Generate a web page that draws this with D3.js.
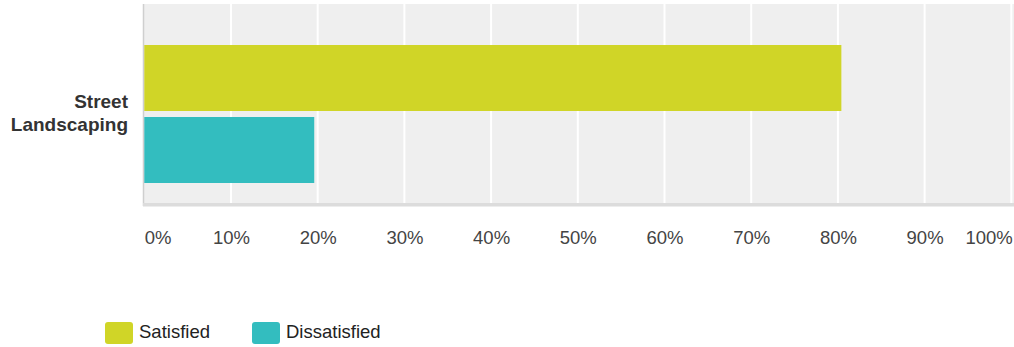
<!DOCTYPE html>
<html><head><meta charset="utf-8">
<script src="https://cdn.jsdelivr.net/npm/d3@7"></script>
<style>body{margin:0;background:#fff;font-family:Arial,"Liberation Sans",Helvetica,sans-serif}</style>
</head><body><svg id="c" width="1014" height="347"></svg>
<script>
const categories = ["Street Landscaping"];
const seriesNames = ["Satisfied", "Dissatisfied"];
const satisfied = [80.4];
const dissatisfied = [19.6];
const tickValues = [0,10,20,30,40,50,60,70,80,90,100];
const tickLabels = ["0%","10%","20%","30%","40%","50%","60%","70%","80%","90%","100%"];
const colors = ["#d0d527", "#33bdbf"];

const svg = d3.select("#c");
const x = d3.scaleLinear().domain([0,100]).range([144.3, 1011.3]);
const plotTop = 4, plotBottom = 203;
const y1 = d3.scaleBand().domain(seriesNames).range([45, 183]).paddingInner(1/12).paddingOuter(0);

// background
svg.append("rect").attr("x",143).attr("y",plotTop).attr("width",1014-143).attr("height",plotBottom-plotTop).attr("fill","#efefef");
// grid
svg.selectAll("line.g").data(tickValues.slice(1)).enter().append("line")
  .attr("x1",d=>x(d)).attr("x2",d=>x(d)).attr("y1",plotTop).attr("y2",plotBottom)
  .attr("stroke","#fff").attr("stroke-width",2);
// left axis line
svg.append("line").attr("x1",143.5).attr("x2",143.5).attr("y1",plotTop).attr("y2",plotBottom+3).attr("stroke","#cfcfcf").attr("stroke-width",1.5);
// bottom band
svg.append("rect").attr("x",143).attr("y",plotBottom).attr("width",1014-143).attr("height",3.5).attr("fill","#dcdcdc");

const series = [satisfied, dissatisfied];
categories.forEach((c,ci)=>{
  seriesNames.forEach((s,si)=>{
    svg.append("rect")
      .attr("x",x(0)).attr("y",y1(s)).attr("width",x(series[si][ci])-x(0)).attr("height",y1.bandwidth())
      .attr("fill",colors[si]);
  });
  const words = c.split(" ");
  const t = svg.append("text").attr("text-anchor","end").attr("font-weight","bold").attr("font-size",19).attr("fill","#333");
  words.forEach((w,i)=>t.append("tspan").attr("x",128).attr("y",108+i*23).text(w));
});

// x axis labels
const ax = svg.append("g").attr("transform",`translate(0,${244})`);
const axis = d3.axisBottom(x).tickValues(tickValues).tickFormat((d,i)=>tickLabels[i]).tickSize(0).tickPadding(0);
ax.call(axis);
ax.select(".domain").remove();
ax.selectAll("text").attr("font-size",18.5).attr("fill","#444").attr("font-family","Arial,'Liberation Sans',sans-serif")
  .attr("dy",0).attr("y",0)
  .attr("text-anchor",(d)=>d===0?"start":(d===100?"end":"middle"))
  .attr("dx",(d)=>d===100?"1":"0");

// legend
const leg = svg.append("g");
const legX = [105, 252];
seriesNames.forEach((s,i)=>{
  leg.append("rect").attr("x",legX[i]).attr("y",322).attr("width",28).attr("height",22).attr("rx",3).attr("fill",colors[i]);
  leg.append("text").attr("x",legX[i]+34).attr("y",338).attr("font-size",18.5).attr("fill","#222").text(s);
});
</script></body></html>
